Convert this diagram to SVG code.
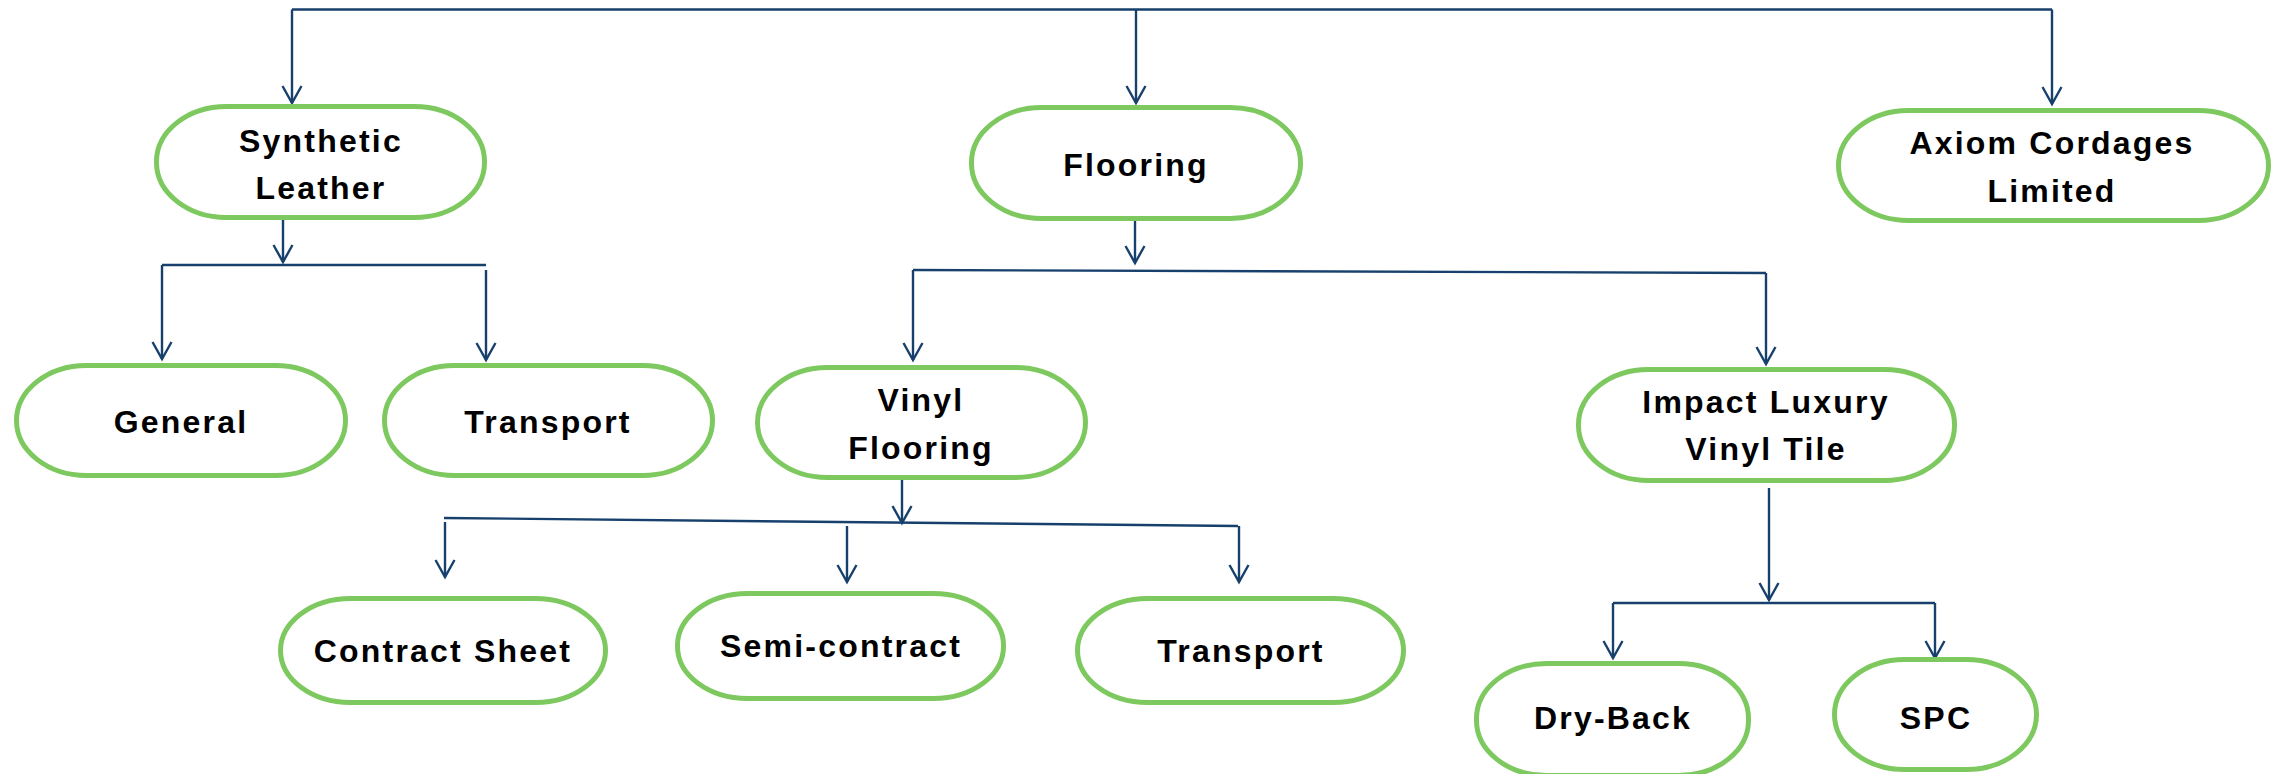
<svg xmlns="http://www.w3.org/2000/svg" width="2277" height="774" viewBox="0 0 2277 774">
<defs>
<marker id="arr" markerUnits="userSpaceOnUse" markerWidth="40" markerHeight="40" refX="0" refY="0" orient="auto" overflow="visible">
<path d="M-17,-9.5 L0,0 L-17,9.5" fill="none" stroke="#17406d" stroke-width="2.4"/>
</marker>
</defs>
<style>
.node{fill:#ffffff;stroke:#7dc95f;stroke-width:5}
.lbl{font-family:"Liberation Sans",Arial,sans-serif;font-weight:bold;font-size:32px;letter-spacing:2.2px;fill:#000;text-anchor:middle}
.c{fill:none;stroke:#17406d;stroke-width:2.4}
.a{marker-end:url(#arr)}
</style>
<rect width="2277" height="774" fill="#ffffff"/>
<g id="connectors">
<line class="c" x1="292" y1="9.5" x2="2052" y2="9.5"/>
<line class="c a" x1="292" y1="9.5" x2="292" y2="103"/>
<line class="c a" x1="1136" y1="9.5" x2="1136" y2="103"/>
<line class="c a" x1="2052" y1="9.5" x2="2052" y2="104"/>
<line class="c a" x1="283" y1="220" x2="283" y2="262"/>
<line class="c" x1="162" y1="265" x2="486" y2="265"/>
<line class="c a" x1="162" y1="265" x2="162" y2="359"/>
<line class="c a" x1="486" y1="270" x2="486" y2="360"/>
<line class="c a" x1="1135" y1="221" x2="1135" y2="263"/>
<line class="c" x1="913" y1="270" x2="1766" y2="273"/>
<line class="c a" x1="913" y1="270" x2="913" y2="360"/>
<line class="c a" x1="1766" y1="273" x2="1766" y2="364"/>
<line class="c a" x1="902" y1="480" x2="902" y2="523"/>
<line class="c" x1="444" y1="518" x2="1238" y2="526"/>
<line class="c a" x1="445" y1="522" x2="445" y2="577"/>
<line class="c a" x1="847" y1="526" x2="847" y2="582"/>
<line class="c a" x1="1239" y1="526" x2="1239" y2="582"/>
<line class="c a" x1="1769" y1="488" x2="1769" y2="600"/>
<line class="c" x1="1613" y1="603" x2="1935" y2="603"/>
<line class="c a" x1="1613" y1="603" x2="1613" y2="658"/>
<line class="c a" x1="1935" y1="603" x2="1935" y2="658"/>
</g>
<g id="synthetic-leather">
<rect class="node" x="156.5" y="106.5" width="328" height="111" rx="70" ry="55"/>
<text class="lbl" x="321" y="152">Synthetic</text>
<text class="lbl" x="321" y="199">Leather</text>
</g>
<g id="flooring">
<rect class="node" x="971.5" y="107.5" width="329" height="111" rx="70" ry="55"/>
<text class="lbl" x="1136" y="176">Flooring</text>
</g>
<g id="axiom">
<rect class="node" x="1838.5" y="110.5" width="430" height="110" rx="70" ry="55"/>
<text class="lbl" x="2052" y="154">Axiom Cordages</text>
<text class="lbl" x="2052" y="202">Limited</text>
</g>
<g id="general">
<rect class="node" x="16.5" y="365.5" width="329" height="110" rx="70" ry="55"/>
<text class="lbl" x="181" y="433">General</text>
</g>
<g id="transport-1">
<rect class="node" x="384.5" y="365.5" width="328" height="110" rx="70" ry="55"/>
<text class="lbl" x="548" y="433">Transport</text>
</g>
<g id="vinyl-flooring">
<rect class="node" x="757.5" y="367.5" width="328" height="110" rx="70" ry="55"/>
<text class="lbl" x="921" y="411">Vinyl</text>
<text class="lbl" x="921" y="459">Flooring</text>
</g>
<g id="impact-lvt">
<rect class="node" x="1578.5" y="369.5" width="376" height="111" rx="70" ry="55"/>
<text class="lbl" x="1766" y="413">Impact Luxury</text>
<text class="lbl" x="1766" y="460">Vinyl Tile</text>
</g>
<g id="contract-sheet">
<rect class="node" x="280.5" y="598.5" width="325" height="104" rx="70" ry="52"/>
<text class="lbl" x="443" y="662">Contract Sheet</text>
</g>
<g id="semi-contract">
<rect class="node" x="677.5" y="593.5" width="326" height="105" rx="70" ry="52"/>
<text class="lbl" x="841" y="657">Semi-contract</text>
</g>
<g id="transport-2">
<rect class="node" x="1077.5" y="598.5" width="326" height="104" rx="70" ry="52"/>
<text class="lbl" x="1241" y="662">Transport</text>
</g>
<g id="dry-back">
<rect class="node" x="1476.5" y="663.5" width="272" height="112" rx="70" ry="55"/>
<text class="lbl" x="1613" y="729">Dry-Back</text>
</g>
<g id="spc">
<rect class="node" x="1834.5" y="659.5" width="202" height="110" rx="70" ry="55"/>
<text class="lbl" x="1936" y="729">SPC</text>
</g>
</svg>
